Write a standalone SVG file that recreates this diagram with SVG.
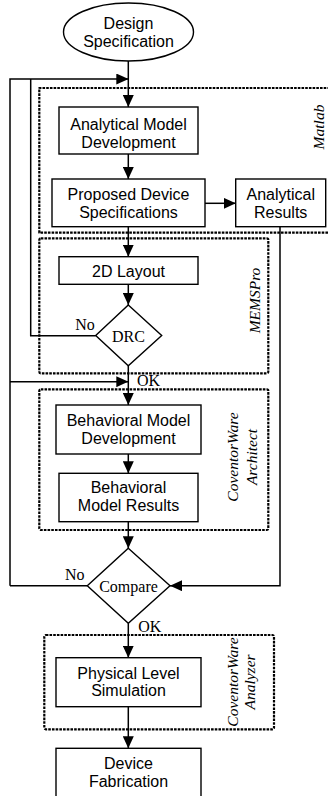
<svg xmlns="http://www.w3.org/2000/svg" width="328" height="796" viewBox="0 0 328 796">
  <style>
    .box { fill: #fff; stroke: #000; stroke-width: 1.4; }
    .zone { fill: none; stroke: #000; stroke-width: 2.2; stroke-dasharray: 2.6 1.1; stroke-linejoin: round; }
    .wire { fill: none; stroke: #000; stroke-width: 1.5; }
    .sans { font-family: "Liberation Sans", Arial, sans-serif; font-size: 16px; text-anchor: middle; fill: #000; }
    .serif { font-family: "Liberation Serif", "Times New Roman", serif; font-size: 16px; fill: #000; }
    .tool { font-family: "Liberation Serif", "Times New Roman", serif; font-size: 15.5px; font-style: italic; text-anchor: middle; fill: #000; }
  </style>
  <defs>
    <marker id="arrow" markerUnits="userSpaceOnUse" markerWidth="12" markerHeight="11" refX="12" refY="5.5" orient="auto">
      <path d="M0,0 L12,5.5 L0,11 z" fill="#000"/>
    </marker>
  </defs>

  <rect width="328" height="796" fill="#fff"/>

  <!-- tool regions (dotted) -->
  <g id="zone-matlab">
    <path class="zone" d="M330,88 H39.3 V232.7 H330"/>
    <text class="tool" transform="translate(323.5,127) rotate(-90)">Matlab</text>
  </g>
  <g id="zone-memspro">
    <rect class="zone" x="39.3" y="238.3" width="229" height="135" rx="1.5"/>
    <text class="tool" transform="translate(259.5,300.5) rotate(-90)">MEMSPro</text>
  </g>
  <g id="zone-architect">
    <rect class="zone" x="39.3" y="389.3" width="229" height="140.7" rx="1.5"/>
    <text class="tool" transform="translate(238,457) rotate(-90)">CoventorWare</text>
    <text class="tool" transform="translate(256.5,457) rotate(-90)">Architect</text>
  </g>
  <g id="zone-analyzer">
    <rect class="zone" x="44.3" y="635" width="229.7" height="94.3" rx="1.5"/>
    <text class="tool" transform="translate(238,682) rotate(-90)">CoventorWare</text>
    <text class="tool" transform="translate(254.5,682) rotate(-90)">Analyzer</text>
  </g>

  <!-- connectors -->
  <g id="connectors">
    <line class="wire" x1="128.3" y1="61" x2="128.3" y2="107" marker-end="url(#arrow)"/>
    <path class="wire" d="M10,585.7 V79 H128.3" marker-end="url(#arrow)"/>
    <path class="wire" d="M95.7,335.7 H30.7 V79"/>
    <line class="wire" x1="128.3" y1="154" x2="128.3" y2="179" marker-end="url(#arrow)"/>
    <line class="wire" x1="205" y1="203.3" x2="235.7" y2="203.3" marker-end="url(#arrow)"/>
    <line class="wire" x1="128.3" y1="226.7" x2="128.3" y2="256.7" marker-end="url(#arrow)"/>
    <line class="wire" x1="128.3" y1="284.3" x2="128.3" y2="305" marker-end="url(#arrow)"/>
    <line class="wire" x1="128.3" y1="365.7" x2="128.3" y2="405" marker-end="url(#arrow)"/>
    <line class="wire" x1="10" y1="381.7" x2="128.3" y2="381.7" marker-end="url(#arrow)"/>
    <line class="wire" x1="128.3" y1="454" x2="128.3" y2="473.3" marker-end="url(#arrow)"/>
    <line class="wire" x1="128.3" y1="521.7" x2="128.3" y2="548.3" marker-end="url(#arrow)"/>
    <path class="wire" d="M280,226.7 V585.7 H170" marker-end="url(#arrow)"/>
    <line class="wire" x1="87.3" y1="585.7" x2="10" y2="585.7"/>
    <line class="wire" x1="128.3" y1="623.3" x2="128.3" y2="657.7" marker-end="url(#arrow)"/>
    <line class="wire" x1="128.3" y1="706.7" x2="128.3" y2="748.3" marker-end="url(#arrow)"/>
    <text class="serif" x="85" y="330" text-anchor="middle">No</text>
    <text class="serif" x="137" y="386">OK</text>
    <text class="serif" x="74.7" y="579.5" text-anchor="middle">No</text>
    <text class="serif" x="138.3" y="632.3">OK</text>
  </g>

  <!-- nodes -->
  <g id="design-spec">
    <ellipse class="box" cx="128.5" cy="32" rx="65" ry="29"/>
    <text class="sans" x="128.5" y="29">Design</text>
    <text class="sans" x="128.5" y="47">Specification</text>
  </g>
  <g id="analytical-model">
    <rect class="box" x="59" y="107" width="139" height="47"/>
    <text class="sans" x="128.5" y="130">Analytical Model</text>
    <text class="sans" x="128.5" y="148">Development</text>
  </g>
  <g id="proposed-specs">
    <rect class="box" x="52" y="179" width="153" height="47.7"/>
    <text class="sans" x="128.5" y="200">Proposed Device</text>
    <text class="sans" x="128.5" y="218">Specifications</text>
  </g>
  <g id="analytical-results">
    <rect class="box" x="235.7" y="179" width="90" height="47.7"/>
    <text class="sans" x="280.7" y="200">Analytical</text>
    <text class="sans" x="280.7" y="218">Results</text>
  </g>
  <g id="layout-2d">
    <rect class="box" x="59" y="256.7" width="139" height="27.6"/>
    <text class="sans" x="128.5" y="277">2D Layout</text>
  </g>
  <g id="drc">
    <polygon class="box" points="128.3,305 161.7,335.5 128.3,365.7 95.7,335.5"/>
    <text class="serif" x="128.5" y="342" text-anchor="middle">DRC</text>
  </g>
  <g id="behavioral-model">
    <rect class="box" x="56" y="405" width="145" height="49"/>
    <text class="sans" x="128.5" y="426">Behavioral Model</text>
    <text class="sans" x="128.5" y="444">Development</text>
  </g>
  <g id="behavioral-results">
    <rect class="box" x="59" y="473.3" width="139" height="48.4"/>
    <text class="sans" x="128.5" y="493">Behavioral</text>
    <text class="sans" x="128.5" y="511">Model Results</text>
  </g>
  <g id="compare">
    <polygon class="box" points="128.3,548.3 170,585.7 128.3,623.3 87.3,585.7"/>
    <text class="serif" x="128.5" y="591.5" text-anchor="middle">Compare</text>
  </g>
  <g id="physical-sim">
    <rect class="box" x="56" y="657.7" width="145" height="49"/>
    <text class="sans" x="128.5" y="678.5">Physical Level</text>
    <text class="sans" x="128.5" y="696">Simulation</text>
  </g>
  <g id="fabrication">
    <rect class="box" x="56" y="748.3" width="145" height="50"/>
    <text class="sans" x="128.5" y="768.5">Device</text>
    <text class="sans" x="128.5" y="786.5">Fabrication</text>
  </g>
</svg>
